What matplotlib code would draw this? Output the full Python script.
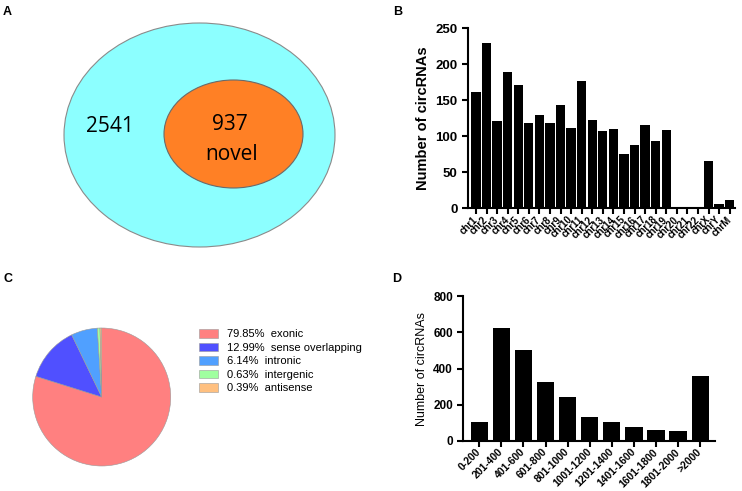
import matplotlib
matplotlib.use("Agg")
import matplotlib.pyplot as plt
from matplotlib.patches import Ellipse

plt.rcParams['font.family'] = ['Liberation Sans', 'DejaVu Sans']

# ---------------- data ----------------
venn_total_only = 2541
venn_novel = 937
venn_novel_label = "novel"

chrom_names = ["chr1", "chr2", "chr3", "chr4", "chr5", "chr6", "chr7", "chr8", "chr9",
               "chr10", "chr11", "chr12", "chr13", "chr14", "chr15", "chr16", "chr17",
               "chr18", "chr19", "chr20", "chr21", "chr22", "chrX", "chrY", "chrM"]
chrom_counts = [162, 230, 121, 189, 171, 119, 129, 119, 144, 112, 177, 122, 108, 110,
                76, 88, 116, 94, 109, 0, 0, 0, 66, 6, 11]

pie_labels = ["exonic", "sense overlapping", "intronic", "intergenic", "antisense"]
pie_pcts = [79.85, 12.99, 6.14, 0.63, 0.39]
pie_colors = ["#FF8080", "#5050FF", "#50A0FF", "#A0FFA0", "#FFC080"]

len_bins = ["0-200", "201-400", "401-600", "601-800", "801-1000", "1001-1200",
            "1201-1400", "1401-1600", "1601-1800", "1801-2000", ">2000"]
len_counts = [104, 623, 503, 323, 244, 131, 103, 76, 59, 52, 357]

# ---------------- figure ----------------
W, H = 742, 491
fig = plt.figure(figsize=(W / 100, H / 100), dpi=100)

def px_axes(x0, y0, x1, y1):
    """axes from pixel box (top-left origin)"""
    return fig.add_axes([x0 / W, 1 - y1 / H, (x1 - x0) / W, (y1 - y0) / H])

# panel letters
for lab, (x, y) in {"A": (3, 12), "B": (393, 12), "C": (3, 279), "D": (392, 279)}.items():
    fig.text(x / W, 1 - y / H, lab, fontsize=9, fontweight="bold", va="center", ha="left")

# ---------------- A: Venn ----------------
axA = px_axes(0, 0, 390, 265)
axA.set_xlim(0, 390)
axA.set_ylim(265, 0)
axA.axis("off")
axA.add_patch(Ellipse((199.5, 135), 271, 224, facecolor="#8CFFFF", edgecolor="#8a8a8a", lw=0.8))
axA.add_patch(Ellipse((233.5, 134), 139, 108, facecolor="#FF8025", edgecolor="#6a6a6a", lw=0.8))
vfont = ["Open Sans", "DejaVu Sans"]
axA.text(110, 127, str(venn_total_only), fontsize=15, ha="center", va="center", family=vfont)
axA.text(230, 124, str(venn_novel), fontsize=15, ha="center", va="center", family=vfont)
axA.text(232, 154, venn_novel_label, fontsize=15, ha="center", va="center", family=vfont)

def style_axes(ax):
    for s in ("top", "right"):
        ax.spines[s].set_visible(False)
    for s in ("left", "bottom"):
        ax.spines[s].set_linewidth(1.5)
    ax.tick_params(axis="both", width=1.5, length=4, direction="out")

# ---------------- B: chromosome bars ----------------
axB = px_axes(468, 28.3, 735, 208.3)
xb = list(range(len(chrom_names)))
axB.bar(xb, chrom_counts, width=0.88, color="black", edgecolor="none")
axB.set_xlim(-0.755, len(chrom_names) - 0.5)
axB.set_ylim(0, 250)
axB.set_yticks([0, 50, 100, 150, 200, 250])
axB.set_xticks(xb)
axB.set_xticklabels(chrom_names, rotation=45, ha="right", va="center", rotation_mode="anchor",
                    fontsize=7, fontweight="bold")
axB.tick_params(axis="x", pad=3)
for t in axB.get_yticklabels():
    t.set_fontweight("bold")
    t.set_fontsize(9.5)
style_axes(axB)
axB.set_ylabel("Number of circRNAs", fontsize=10.5, fontweight="bold", labelpad=4)

# ---------------- C: pie ----------------
cx, cy, r = 101.7, 397, 69
axC = px_axes(cx - r, cy - r, cx + r, cy + r)
wedges, _ = axC.pie(pie_pcts, colors=pie_colors, startangle=90, counterclock=False,
                    wedgeprops=dict(edgecolor="#9a9a9a", linewidth=0.4))
axC.set_xlim(-1, 1)
axC.set_ylim(-1, 1)
axC.set_aspect("auto")
leg_labels = [f"{p:.2f}%  {l}" for p, l in zip(pie_pcts, pie_labels)]
fig.legend(wedges, leg_labels, loc="upper left",
           bbox_to_anchor=(199 / W, 1 - 329 / H), frameon=False, fontsize=8,
           handlelength=1.75, handleheight=0.8, handletextpad=0.75,
           labelspacing=0.31, borderpad=0, borderaxespad=0)

# ---------------- D: length bars ----------------
axD = px_axes(463.3, 296.3, 715, 440.7)
xd = list(range(len(len_bins)))
axD.bar(xd, len_counts, width=0.78, color="black")
axD.set_xlim(-0.725, len(len_bins) - 0.33)
axD.set_ylim(0, 800)
axD.set_yticks([0, 200, 400, 600, 800])
axD.set_xticks(xd)
axD.set_xticklabels(len_bins, rotation=45, ha="right", va="center", rotation_mode="anchor",
                    fontsize=7.5, fontweight="bold")
axD.tick_params(axis="x", pad=3)
for t in axD.get_yticklabels():
    t.set_fontweight("bold")
    t.set_fontsize(8.5)
style_axes(axD)
axD.set_ylabel("Number of circRNAs", fontsize=9, labelpad=4)

fig.savefig("out.png", dpi=100)
